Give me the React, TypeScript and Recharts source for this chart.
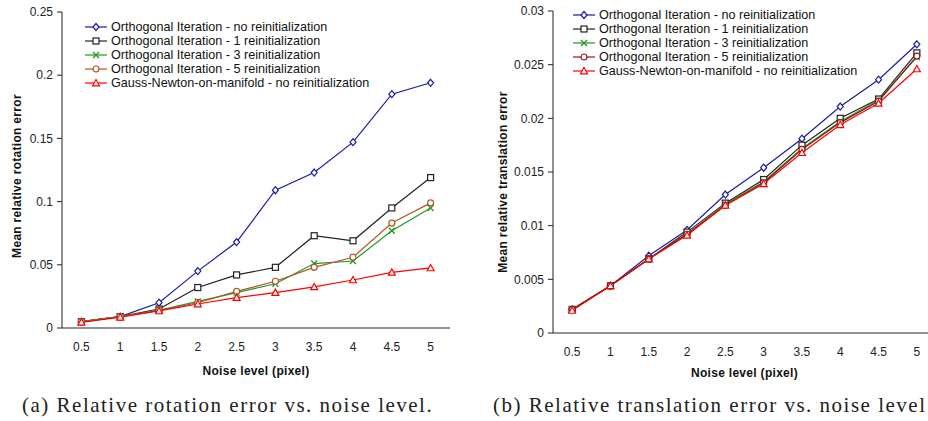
import { LineChart, Line, XAxis, YAxis, Legend } from "recharts";

const noiseLevels = [0.5, 1, 1.5, 2, 2.5, 3, 3.5, 4, 4.5, 5];
const bandEdges = [0.25, 0.75, 1.25, 1.75, 2.25, 2.75, 3.25, 3.75, 4.25, 4.75, 5.25];

const rotNoReinit = [0.005, 0.009, 0.02, 0.045, 0.068, 0.109, 0.123, 0.147, 0.185, 0.194];
const rotReinit1 = [0.005, 0.009, 0.015, 0.032, 0.042, 0.048, 0.073, 0.069, 0.095, 0.119];
const rotReinit3 = [0.005, 0.009, 0.014, 0.021, 0.028, 0.035, 0.051, 0.053, 0.077, 0.095];
const rotReinit5 = [0.005, 0.009, 0.014, 0.02, 0.029, 0.037, 0.048, 0.056, 0.083, 0.099];
const rotGaussNewton = [0.0045, 0.0085, 0.0135, 0.019, 0.024, 0.028, 0.0325, 0.038, 0.044, 0.0475];
const rotTicks = [0, 0.05, 0.1, 0.15, 0.2, 0.25];

const trNoReinit = [0.0022, 0.0044, 0.0072, 0.0096, 0.0129, 0.0154, 0.0181, 0.0211, 0.0236, 0.0269];
const trReinit1 = [0.0022, 0.0044, 0.0069, 0.0094, 0.0121, 0.0143, 0.0175, 0.02, 0.0218, 0.0261];
const trReinit3 = [0.0022, 0.0044, 0.0069, 0.0092, 0.012, 0.0141, 0.0172, 0.0197, 0.0217, 0.0257];
const trReinit5 = [0.0022, 0.0044, 0.0069, 0.0092, 0.0119, 0.014, 0.0171, 0.0196, 0.0216, 0.0258];
const trGaussNewton = [0.0021, 0.0044, 0.0069, 0.0091, 0.0119, 0.0139, 0.0168, 0.0194, 0.0214, 0.0246];
const trTicks = [0, 0.005, 0.01, 0.015, 0.02, 0.025, 0.03];

const seriesNames = [
  "Orthogonal Iteration - no reinitialization",
  "Orthogonal Iteration - 1 reinitialization",
  "Orthogonal Iteration - 3 reinitialization",
  "Orthogonal Iteration - 5 reinitialization",
  "Gauss-Newton-on-manifold - no reinitialization",
];

const FONT = "'Liberation Sans', Arial, sans-serif";
const TICK = { fontSize: 12, fill: "#222", fontFamily: FONT };

type Shape = "diamond" | "square" | "cross" | "circle" | "triangle";

function Marker({ cx, cy, shape, color }: { cx: number; cy: number; shape: Shape; color: string }) {
  if (cx == null || cy == null) return null;
  const s = 3;
  if (shape === "diamond")
    return <path d={`M${cx},${cy - 3.5}L${cx + 3},${cy}L${cx},${cy + 3.5}L${cx - 3},${cy}Z`} fill="#fff" stroke={color} strokeWidth={1.2} />;
  if (shape === "square")
    return <rect x={cx - s} y={cy - s} width={s * 2} height={s * 2} fill="#fff" stroke={color} strokeWidth={1.2} />;
  if (shape === "cross")
    return <path d={`M${cx - s},${cy - s}L${cx + s},${cy + s}M${cx + s},${cy - s}L${cx - s},${cy + s}`} stroke={color} strokeWidth={1.3} />;
  if (shape === "circle") return <circle cx={cx} cy={cy} r={3} fill="#fff" stroke={color} strokeWidth={1.2} />;
  return <path d={`M${cx},${cy - 3.5}L${cx + 3.5},${cy + 2.8}L${cx - 3.5},${cy + 2.8}Z`} fill="#fff" stroke={color} strokeWidth={1.2} />;
}

function YTitle(props: any) {
  const { viewBox, value, dxPos, shift } = props;
  const cx = viewBox.x + dxPos;
  const cy = viewBox.y + viewBox.height / 2 + shift;
  return (
    <text x={cx} y={cy} transform={`rotate(-90 ${cx} ${cy})`} textAnchor="middle" dominantBaseline="central"
      style={{ fontFamily: FONT, fontSize: 12, fontWeight: 700, letterSpacing: 0.3, fill: "#111" }}>
      {value}
    </text>
  );
}

function XTitle(props: any) {
  const { viewBox, value, dyPos } = props;
  return (
    <text x={viewBox.x + viewBox.width / 2} y={viewBox.y + dyPos} textAnchor="middle" dominantBaseline="central"
      style={{ fontFamily: FONT, fontSize: 12, fontWeight: 700, letterSpacing: 0.3, fill: "#111" }}>
      {value}
    </text>
  );
}

function LegendBox({ colors, shapes }: { colors: string[]; shapes: Shape[] }) {
  return (
    <div style={{ fontFamily: FONT, fontSize: 12.6, color: "#111", lineHeight: "14px" }}>
      {seriesNames.map((n, i) => (
        <div key={n} style={{ display: "flex", alignItems: "center", height: 14 }}>
          <svg width={26} height={14}>
            <line x1={0} y1={7} x2={22} y2={7} stroke={colors[i]} strokeWidth={1.2} />
            <Marker cx={11} cy={7} shape={shapes[i]} color={colors[i]} />
          </svg>
          <span style={{ whiteSpace: "nowrap" }}>{n}</span>
        </div>
      ))}
    </div>
  );
}

const shapes: Shape[] = ["diamond", "square", "cross", "circle", "triangle"];
const rotColors = ["#1c1ca0", "#222", "#1f9a1f", "#b0562a", "#ff0000"];
const trColors = ["#1c1ca0", "#222", "#1f9a1f", "#8b1a1a", "#ff0000"];

function ErrorChart(props: {
  series: number[][];
  colors: string[];
  ticks: number[];
  yTitle: string;
  width: number;
  yAxisWidth: number;
  top: number;
  bottomArea: number;
  titleX: number;
  titleShift: number;
  xTitleY: number;
  legendPos: { left: number; top: number };
}) {
  const data = noiseLevels.map((x, i) => {
    const row: any = { x };
    props.series.forEach((s, k) => (row["s" + k] = s[i]));
    return row;
  });
  const max = props.ticks[props.ticks.length - 1];
  return (
    <LineChart width={props.width} height={390} data={data}
      margin={{ top: props.top, right: 10, left: 0, bottom: 0 }}>
      <XAxis xAxisId="edges" dataKey="x" type="number" domain={[0.25, 5.25]} ticks={bandEdges}
        tick={false} tickSize={5} height={6} stroke="#222" interval={0} />
      <XAxis xAxisId="labels" dataKey="x" type="number" domain={[0.25, 5.25]} ticks={noiseLevels}
        tickLine={false} axisLine={false} tickSize={0} tickMargin={8} tick={TICK} interval={0}
        height={props.bottomArea - 6}
        label={<XTitle value="Noise level (pixel)" dyPos={props.xTitleY} />} />
      <YAxis type="number" domain={[0, max]} ticks={props.ticks} interval={0} width={props.yAxisWidth}
        tick={TICK} tickSize={5} tickMargin={4} stroke="#222"
        label={<YTitle value={props.yTitle} dxPos={props.titleX} shift={props.titleShift} />} />
      <Legend layout="vertical" align="center" verticalAlign="middle"
        wrapperStyle={{ position: "absolute", left: props.legendPos.left, top: props.legendPos.top, width: "auto" }}
        content={() => <LegendBox colors={props.colors} shapes={shapes} />} />
      {props.series.map((_, k) => (
        <Line key={k} xAxisId="edges" type="linear" dataKey={"s" + k} name={seriesNames[k]} stroke={props.colors[k]}
          strokeWidth={1.2} isAnimationActive={false}
          dot={(p: any) => <Marker key={k + "-" + p.index} cx={p.cx} cy={p.cy} shape={shapes[k]} color={props.colors[k]} />} />
      ))}
    </LineChart>
  );
}

const captionStyle = {
  position: "absolute" as const,
  top: 395,
  fontFamily: "'Liberation Serif', serif",
  fontSize: 21,
  lineHeight: "21px",
  letterSpacing: 1.5,
  whiteSpace: "nowrap" as const,
  color: "#222",
};

export default function App() {
  return (
    <div style={{ position: "absolute", left: 0, top: 0, width: 928, height: 421, overflow: "hidden", background: "#fff" }}>
      <div style={{ position: "absolute", left: 0, top: 0 }}>
        <ErrorChart series={[rotNoReinit, rotReinit1, rotReinit3, rotReinit5, rotGaussNewton]} colors={rotColors}
          ticks={rotTicks} yTitle="Mean relative rotation error" width={460} yAxisWidth={62} top={12}
          bottomArea={390 - 328} titleX={17} titleShift={6} xTitleY={37}
          legendPos={{ left: 85, top: 20 }} />
      </div>
      <div style={{ position: "absolute", left: 460, top: 0 }}>
        <ErrorChart series={[trNoReinit, trReinit1, trReinit3, trReinit5, trGaussNewton]} colors={trColors}
          ticks={trTicks} yTitle="Mean relative translation error" width={486} yAxisWidth={93} top={11}
          bottomArea={390 - 333} titleX={43} titleShift={10} xTitleY={34}
          legendPos={{ left: 113, top: 8 }} />
      </div>
      <div style={{ ...captionStyle, left: 22 }}>(a) Relative rotation error vs. noise level.</div>
      <div style={{ ...captionStyle, left: 493 }}>(b) Relative translation error vs. noise level</div>
    </div>
  );
}
